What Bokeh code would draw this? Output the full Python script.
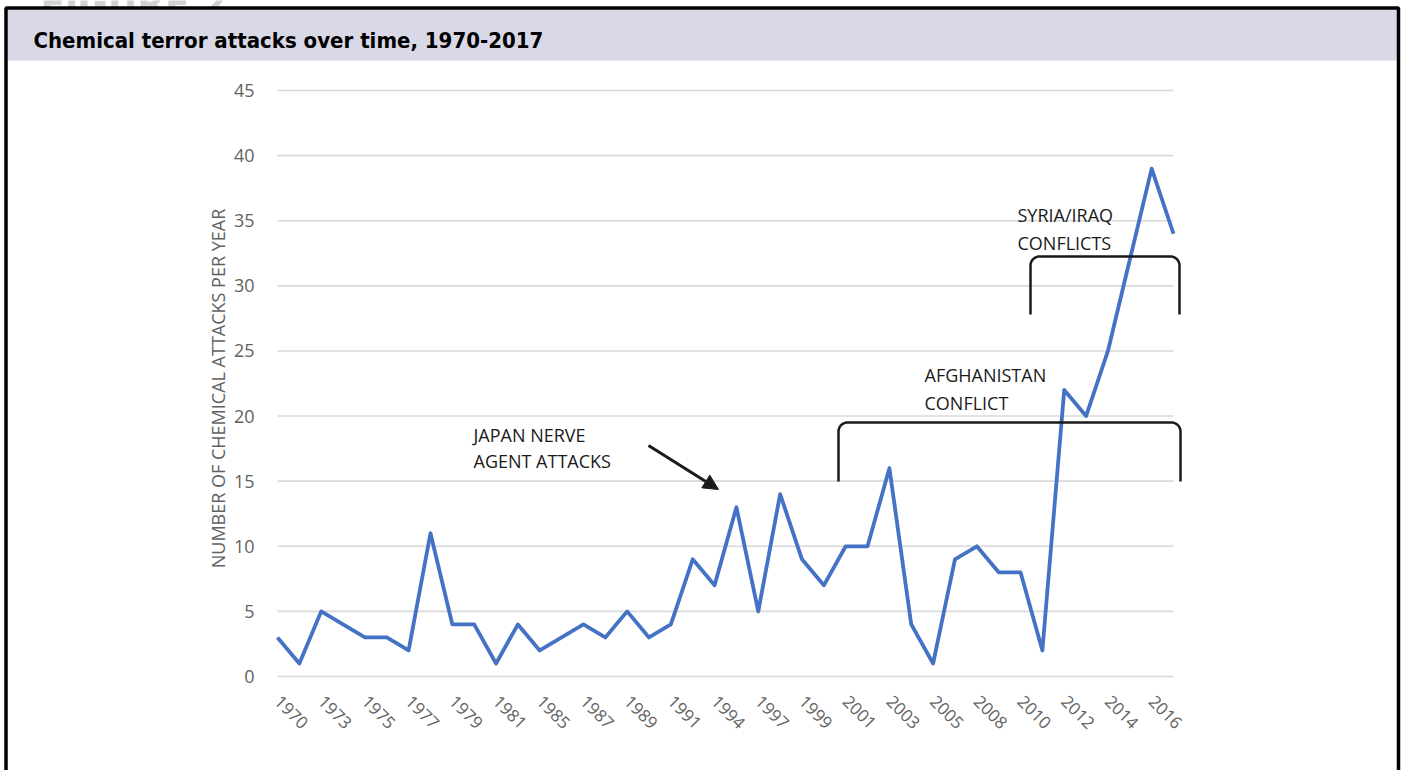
import numpy as np
from bokeh.plotting import figure
from bokeh.models import (Range1d, LinearAxis, FixedTicker, Arrow, NormalHead)
from bokeh.core.properties import value
from bokeh.embed import file_html
from bokeh.resources import INLINE

# ---- data -------------------------------------------------------------
YEARS = [1970, 1972, 1973, 1974, 1975, 1976, 1977, 1978, 1979, 1980, 1981, 1983,
         1985, 1986, 1987, 1988, 1989, 1990, 1991, 1992, 1994, 1995, 1997, 1998,
         1999, 2000, 2001, 2002, 2003, 2004, 2005, 2006, 2008, 2009, 2010, 2011,
         2012, 2013, 2014, 2015, 2016, 2017]
ATTACKS = [3, 1, 5, 4, 3, 3, 2, 11, 4, 4, 1, 4,
           2, 3, 4, 3, 5, 3, 4, 9, 7, 13, 5, 14,
           9, 7, 10, 10, 16, 4, 1, 9, 10, 8, 8, 2,
           22, 20, 25, 32, 39, 34]
Y_TICKS = [0, 5, 10, 15, 20, 25, 30, 35, 40, 45]

TITLE = "Chemical terror attacks over time, 1970-2017"
Y_LABEL = "NUMBER OF CHEMICAL ATTACKS PER YEAR"

# ---- page geometry (pixels) ---------------------------------------------
W, H = 1404, 770
LEFT, RIGHT, TOP, BOTTOM = 277, 1173, 90, 676

idx = list(range(len(YEARS)))
x_lo, x_hi = 0, len(YEARS) - 1
y_lo, y_hi = Y_TICKS[0], Y_TICKS[-1]
sx = (RIGHT - LEFT) / (x_hi - x_lo)
sy = (BOTTOM - TOP) / (y_hi - y_lo)

x_range = Range1d(x_lo - LEFT / sx, x_hi + (W - RIGHT) / sx)
y_range = Range1d(y_lo - (H - BOTTOM) / sy, y_hi + TOP / sy)

p = figure(width=W, height=H, x_range=x_range, y_range=y_range,
           min_border=0, toolbar_location=None, output_backend="svg",
           x_axis_location=None, y_axis_location=None,
           outline_line_color=None, background_fill_color="white",
           border_fill_color="white")
p.xgrid.visible = False
p.ygrid.visible = False

# pixel space for the page furniture (y grows downward)
p.extra_x_ranges["px"] = Range1d(0, W)
p.extra_y_ranges["px"] = Range1d(H, 0)
PX = dict(x_range_name="px", y_range_name="px")

LABEL_GREY = "#626262"
BODY = "Open Sans"
BODY_FONT = value(BODY)
NARROW_BOLD = value("Liberation Sans Narrow, DejaVu Sans Condensed, Arial Narrow, sans-serif")

# ---- frame and title band ----------------------------------------------
p.text(x=[40], y=[3], text=["FIGURE 2"], text_font=NARROW_BOLD,
       text_font_style="bold", text_font_size="40px", text_color="#d2d2d2",
       text_baseline="alphabetic", **PX)
p.quad(left=[7], right=[1397], top=[9], bottom=[60],
       fill_color="#D9D8E6", line_color=None, **PX)
p.line(x=[5.5, 5.5, 1398, 1398], y=[H, 7.5, 7.5, H],
       line_color="black", line_width=3.5, **PX)
p.text(x=[33], y=[40], text=[TITLE], text_font=NARROW_BOLD,
       text_font_style="bold", text_font_size="22px", text_color="black",
       text_baseline="alphabetic", **PX)

# ---- gridlines, series ---------------------------------------------------
p.segment(x0=[x_lo] * len(Y_TICKS), x1=[x_hi] * len(Y_TICKS),
          y0=Y_TICKS, y1=Y_TICKS, line_color="#D9D9D9", line_width=1.6)
p.line(x=idx, y=ATTACKS, line_color="#4472C4", line_width=3.8,
       line_join="round")

# ---- axes ---------------------------------------------------------------
yaxis = LinearAxis(fixed_location=x_lo, ticker=FixedTicker(ticks=Y_TICKS),
                   axis_line_color=None, major_tick_line_color=None,
                   minor_tick_line_color=None, major_label_standoff=17,
                   major_label_text_color=LABEL_GREY,
                   major_label_text_font=BODY,
                   major_label_text_font_size="18px")
p.add_layout(yaxis, "left")

xaxis = LinearAxis(fixed_location=y_lo, ticker=FixedTicker(ticks=idx[::2]),
                   major_label_overrides={i: str(y) for i, y in zip(idx, YEARS)},
                   major_label_orientation=-np.pi / 4,
                   axis_line_color=None, major_tick_line_color=None,
                   minor_tick_line_color=None, major_label_standoff=16,
                   major_label_text_color=LABEL_GREY,
                   major_label_text_font=BODY,
                   major_label_text_font_size="17px")
p.add_layout(xaxis, "below")

p.text(x=[217], y=[388], text=[Y_LABEL], angle=np.pi / 2,
       text_align="center", text_baseline="middle", text_font=BODY_FONT,
       text_font_size="18px", text_color=LABEL_GREY, **PX)

# ---- annotations --------------------------------------------------------
def bracket(xl, xr, yt, yb, r=9):
    t = np.linspace(0, np.pi / 2, 12)
    xs = [xl] + list(xl + r - r * np.cos(t)) + list(xr - r + r * np.sin(t)) + [xr]
    ys = [yb] + list(yt + r - r * np.sin(t)) + list(yt + r - r * np.cos(t)) + [yb]
    return xs, ys

for xl, xr, yt, yb in [(838, 1180, 422, 481), (1030, 1179, 256, 314)]:
    bx, by = bracket(xl, xr, yt, yb)
    p.line(x=bx, y=by, line_color="#1a1a1a", line_width=2.5, **PX)

notes = [
    (473, 434, "JAPAN NERVE"), (473, 460, "AGENT ATTACKS"),
    (924, 374, "AFGHANISTAN"), (924, 402, "CONFLICT"),
    (1017, 214, "SYRIA/IRAQ"), (1017, 242, "CONFLICTS"),
]
p.text(x=[n[0] for n in notes], y=[n[1] for n in notes],
       text=[n[2] for n in notes], text_font=BODY_FONT, text_font_size="18px",
       text_color="#1a1a1a", text_baseline="middle", **PX)

p.add_layout(Arrow(x_start=648, y_start=445, x_end=718, y_end=489,
                   line_color="#1a1a1a", line_width=3,
                   end=NormalHead(size=15, fill_color="#1a1a1a",
                                  line_color="#1a1a1a"), **PX))

open("out.html", "w").write(file_html(p, INLINE))
